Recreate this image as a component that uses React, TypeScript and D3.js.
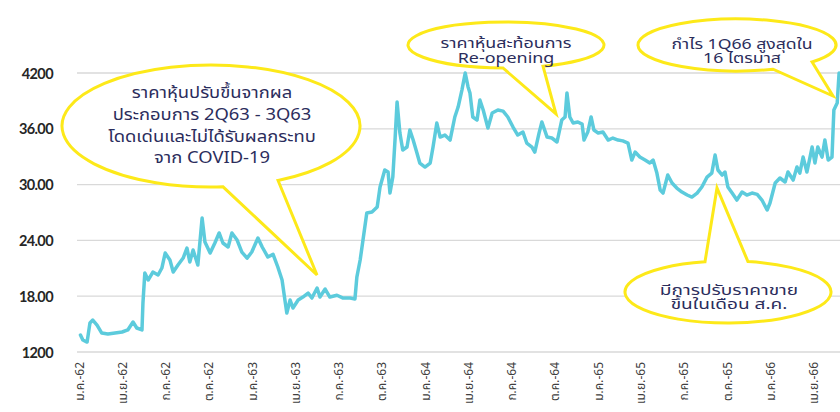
import React from "react";
import * as d3 from "d3";

// ---- data ----
const dates: string[] = [
  "2019-01-02","2019-01-07","2019-01-16","2019-01-22","2019-01-28","2019-02-06","2019-02-16","2019-03-01","2019-03-16","2019-03-31",
  "2019-04-12","2019-04-23","2019-05-01","2019-05-12","2019-05-14","2019-05-18","2019-05-25","2019-06-04","2019-06-15","2019-06-23",
  "2019-06-30","2019-07-10","2019-07-17","2019-07-27","2019-08-07","2019-08-15","2019-08-21","2019-08-28","2019-09-07","2019-09-16",
  "2019-09-22","2019-10-03","2019-10-13","2019-10-22","2019-10-30","2019-11-10","2019-11-18","2019-11-29","2019-12-09","2019-12-20",
  "2019-12-30","2020-01-12","2020-01-21","2020-02-02","2020-02-13","2020-02-23","2020-03-03","2020-03-09","2020-03-13","2020-03-20",
  "2020-03-26","2020-04-06","2020-04-16","2020-04-27","2020-05-05","2020-05-16","2020-05-22","2020-06-02","2020-06-12","2020-06-27",
  "2020-07-10","2020-07-25","2020-08-04","2020-08-08","2020-08-15","2020-08-21","2020-08-29","2020-09-09","2020-09-20","2020-09-26",
  "2020-10-06","2020-10-13","2020-10-17","2020-10-23","2020-10-28","2020-11-01","2020-11-07","2020-11-13","2020-11-22","2020-11-28",
  "2020-12-05","2020-12-13","2020-12-19","2020-12-30","2021-01-10","2021-01-16","2021-01-24","2021-01-31","2021-02-10","2021-02-21",
  "2021-03-03","2021-03-10","2021-03-18","2021-03-25","2021-03-31","2021-04-04","2021-04-10","2021-04-19","2021-04-25","2021-05-02",
  "2021-05-12","2021-05-21","2021-06-02","2021-06-13","2021-06-23","2021-07-04","2021-07-14","2021-07-25","2021-08-02","2021-08-13",
  "2021-08-19","2021-08-28","2021-09-03","2021-09-14","2021-09-24","2021-10-05","2021-10-15","2021-10-22","2021-10-26","2021-11-01",
  "2021-11-08","2021-11-18","2021-11-27","2021-12-01","2021-12-09","2021-12-16","2021-12-22","2021-12-31","2022-01-10","2022-01-21",
  "2022-01-31","2022-02-11","2022-02-21","2022-03-04","2022-03-12","2022-03-19","2022-03-29","2022-04-09","2022-04-19","2022-04-26",
  "2022-05-04","2022-05-11","2022-05-17","2022-05-27","2022-06-05","2022-06-15","2022-06-26","2022-07-07","2022-07-17","2022-07-28",
  "2022-08-07","2022-08-18","2022-08-28","2022-09-04","2022-09-10","2022-09-19","2022-09-25","2022-10-01","2022-10-10","2022-10-20",
  "2022-10-31","2022-11-10","2022-11-21","2022-12-02","2022-12-12","2022-12-23","2022-12-29","2023-01-09","2023-01-19","2023-01-30",
  "2023-02-05","2023-02-16","2023-02-24","2023-03-02","2023-03-09","2023-03-17","2023-03-28","2023-04-03","2023-04-09","2023-04-18",
  "2023-04-24","2023-05-01","2023-05-09","2023-05-13","2023-05-20","2023-05-24",
];

const prices: number[] = [
  1383,1329,1307,1512,1544,1490,1404,1394,1404,1415,
  1437,1522,1458,1437,1727,2050,1974,2060,2028,2103,
  2264,2189,2060,2135,2210,2318,2168,2297,2135,2640,
  2383,2264,2372,2480,2372,2329,2480,2404,2275,2210,
  2275,2426,2329,2221,2250,2114,1974,1759,1619,1759,
  1673,1759,1791,1834,1780,1888,1791,1877,1791,1810,
  1780,1780,1770,2006,2189,2404,2694,2705,2759,2974,
  3157,3135,2909,3081,3511,3888,3554,3372,3404,3587,
  3479,3339,3232,3189,3232,3404,3662,3511,3533,3479,
  3727,3834,4016,4200,4050,3985,3727,3694,3909,3802,
  3608,3769,3802,3790,3727,3619,3533,3565,3447,3404,
  3350,3554,3673,3511,3501,3458,3694,3727,3985,3727,
  3662,3673,3650,3479,3565,3727,3587,3554,3565,3479,
  3501,3479,3470,3447,3264,3350,3296,3264,3232,3264,
  3124,2941,2909,3103,3017,2963,2920,2888,2866,2909,
  2974,3081,3124,3318,3157,3103,3135,2974,2909,2834,
  2920,2888,2909,2895,2834,2727,2802,3017,3071,3028,
  3135,3049,3189,3124,3296,3135,3404,3232,3404,3296,
  3479,3264,3296,3802,3877,4200,
];

const yTicks: number[] = [1200, 1800, 2400, 3000, 3600, 4200];
const yTickLabels: string[] = ["1200", "18.00", "24.00", "30.00", "36.00", "4200"];

const xTickDates: string[] = [
  "2019-01-01","2019-04-01","2019-07-01","2019-10-01",
  "2020-01-01","2020-04-01","2020-07-01","2020-10-01",
  "2021-01-01","2021-04-01","2021-07-01","2021-10-01",
  "2022-01-01","2022-04-01","2022-07-01","2022-10-01",
  "2023-01-01","2023-04-01",
];
const xTickLabels: string[] = [
  "ม.ค.-62","เม.ย.-62","ก.ค.-62","ต.ค.-62",
  "ม.ค.-63","เม.ย.-63","ก.ค.-63","ต.ค.-63",
  "ม.ค.-64","เม.ย.-64","ก.ค.-64","ต.ค.-64",
  "ม.ค.-65","เม.ย.-65","ก.ค.-65","ต.ค.-65",
  "ม.ค.-66","เม.ย.-66",
];

// ---- callouts (annotation layout) ----
type Callout = {
  cx: number; cy: number; rx: number; ry: number;
  a0: number; a1: number; tip: [number, number];
  lines: string[]; lineY: number[]; textX: number; fontSize: number; sx: number;
};
const callouts: Callout[] = [
  {
    cx: 211, cy: 126, rx: 149, ry: 61, a0: 1.49, a1: 1.104 + 2 * Math.PI, tip: [317, 275],
    lines: ["ราคาหุ้นปรับขึ้นจากผล", "ประกอบการ 2Q63 - 3Q63", "โดดเด่นและไม่ได้รับผลกระทบ", "จาก COVID-19"],
    lineY: [93, 115, 137, 158], textX: 212, fontSize: 16, sx: 1.15,
  },
  {
    cx: 506, cy: 45, rx: 98, ry: 23, a0: 1.602, a1: 1.183 + 2 * Math.PI, tip: [556, 114],
    lines: ["ราคาหุ้นสะท้อนการ", "Re-opening"],
    lineY: [44, 59], textX: 506, fontSize: 14, sx: 1.28,
  },
  {
    cx: 737, cy: 45, rx: 99, ry: 26, a0: 1.198, a1: 0.71 + 2 * Math.PI, tip: [833, 96],
    lines: ["กำไร 1Q66 สูงสุดใน", "16 ไตรมาส"],
    lineY: [45, 59], textX: 742, fontSize: 14, sx: 1.26,
  },
  {
    cx: 728, cy: 292, rx: 103, ry: 31, a0: -1.376, a1: -1.796 + 2 * Math.PI, tip: [717, 188],
    lines: ["มีการปรับราคาขาย", "ขึ้นในเดือน ส.ค."],
    lineY: [291, 305], textX: 729, fontSize: 14, sx: 1.36,
  },
];

const W = 840;
const H = 412;
const FONT = "'Noto Sans Thai', Tahoma, Loma, Garuda, 'Noto Sans', 'DejaVu Sans', sans-serif";

function bubblePath(c: Callout): string {
  const p = (a: number) => [c.cx + c.rx * Math.cos(a), c.cy + c.ry * Math.sin(a)];
  const [x0, y0] = p(c.a0);
  const [x1, y1] = p(c.a1);
  const large = c.a1 - c.a0 > Math.PI ? 1 : 0;
  return `M${x0},${y0} A${c.rx},${c.ry} 0 ${large} 1 ${x1},${y1} L${c.tip[0]},${c.tip[1]} Z`;
}

export default function App() {
  const parse = d3.utcParse("%Y-%m-%d");
  const x = d3
    .scaleUtc()
    .domain([parse("2019-01-01")!, parse("2023-04-01")!])
    .range([80, 814]);
  const y = d3.scaleLinear().domain([1200, 4200]).range([352, 73]);

  const data = dates.map((d, i) => ({ date: parse(d)!, v: prices[i] }));
  const line = d3
    .line<{ date: Date; v: number }>()
    .x((d) => x(d.date))
    .y((d) => y(d.v));

  return (
    <svg
      width={W}
      height={H}
      style={{ position: "absolute", left: 0, top: 0, background: "#fff" }}
    >
      {/* gridlines */}
      {yTicks.map((t) => (
        <line key={t} x1={77} x2={W} y1={y(t)} y2={y(t)} stroke="#d9d9d9" strokeWidth={1.3} />
      ))}
      {/* y labels */}
      {yTicks.map((t, i) => (
        <text
          key={"yl" + t}
          x={53}
          y={y(t)}
          textAnchor="end"
          dominantBaseline="central"
          fontFamily="Lato, 'Noto Sans', sans-serif"
          fontWeight={700}
          fontSize={14.5}
          letterSpacing={-0.6}
          fill="#262626"
        >
          {yTickLabels[i]}
        </text>
      ))}
      {/* x labels */}
      {xTickDates.map((d, i) => {
        const xx = x(parse(d)!);
        return (
          <text
            key={d}
            transform={`translate(${xx},362) rotate(-90)`}
            textAnchor="end"
            dominantBaseline="central"
            fontFamily={FONT}
            fontSize={12}
            fill="#404040"
          >
            {xTickLabels[i]}
          </text>
        );
      })}
      {/* price line */}
      <path
        d={line(data) || ""}
        fill="none"
        stroke="#5ccbdc"
        strokeWidth={3.5}
        strokeLinejoin="round"
        strokeLinecap="round"
      />
      {/* callouts */}
      {callouts.map((c, k) => (
        <g key={k}>
          <path d={bubblePath(c)} fill="#fff" stroke="#fde919" strokeWidth={3} strokeLinejoin="miter" />
          {c.lines.map((l, j) => (
            <text
              key={j}
              transform={`translate(${c.textX},${c.lineY[j]}) scale(${c.sx},1)`}
              textAnchor="middle"
              dominantBaseline="central"
              fontFamily={FONT}
              fontSize={c.fontSize}
              fill="#2b2d5c"
            >
              {l}
            </text>
          ))}
        </g>
      ))}
    </svg>
  );
}
